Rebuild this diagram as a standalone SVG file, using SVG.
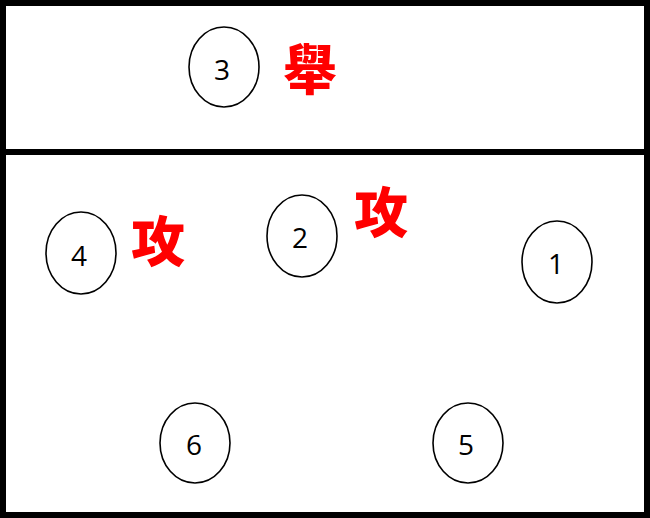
<svg xmlns="http://www.w3.org/2000/svg" width="650" height="518" viewBox="0 0 650 518">
<style>
.court{fill:#fff;stroke:none}
.pl ellipse{fill:#fff;stroke:#000;stroke-width:1.6}
.pl text{font-family:"Open Sans","Noto Sans","Liberation Sans",sans-serif;font-size:28px;fill:#000;text-anchor:middle;dominant-baseline:central}
.act{font-family:"Noto Sans CJK TC","Noto Sans CJK SC",sans-serif;font-weight:900;font-size:54px;fill:#f00;text-anchor:middle;dominant-baseline:central}
</style>
<rect x="0" y="0" width="650" height="518" fill="#000"/>
<rect class="court" x="6" y="6" width="638" height="143"/>
<rect class="court" x="6" y="155" width="638" height="357"/>
<g id="connectors"></g>
<g id="p3" class="pl"><ellipse cx="224" cy="67" rx="35" ry="40"/><text x="222" y="69">3</text></g>
<g id="p4" class="pl"><ellipse cx="81" cy="253" rx="35" ry="41"/><text x="79" y="255">4</text></g>
<g id="p2" class="pl"><ellipse cx="302" cy="236" rx="35" ry="41"/><text x="300" y="237">2</text></g>
<g id="p1" class="pl"><ellipse cx="557" cy="262" rx="35" ry="41"/><text x="556" y="263">1</text></g>
<g id="p6" class="pl"><ellipse cx="195" cy="443" rx="35" ry="40"/><text x="194" y="444">6</text></g>
<g id="p5" class="pl"><ellipse cx="468" cy="443" rx="35" ry="40"/><text x="466" y="444">5</text></g>
<g id="l3"><text class="act" x="310" y="66">舉</text></g>
<g id="l4"><text class="act" x="158" y="238">攻</text></g>
<g id="l2"><text class="act" x="381" y="209">攻</text></g>
</svg>
